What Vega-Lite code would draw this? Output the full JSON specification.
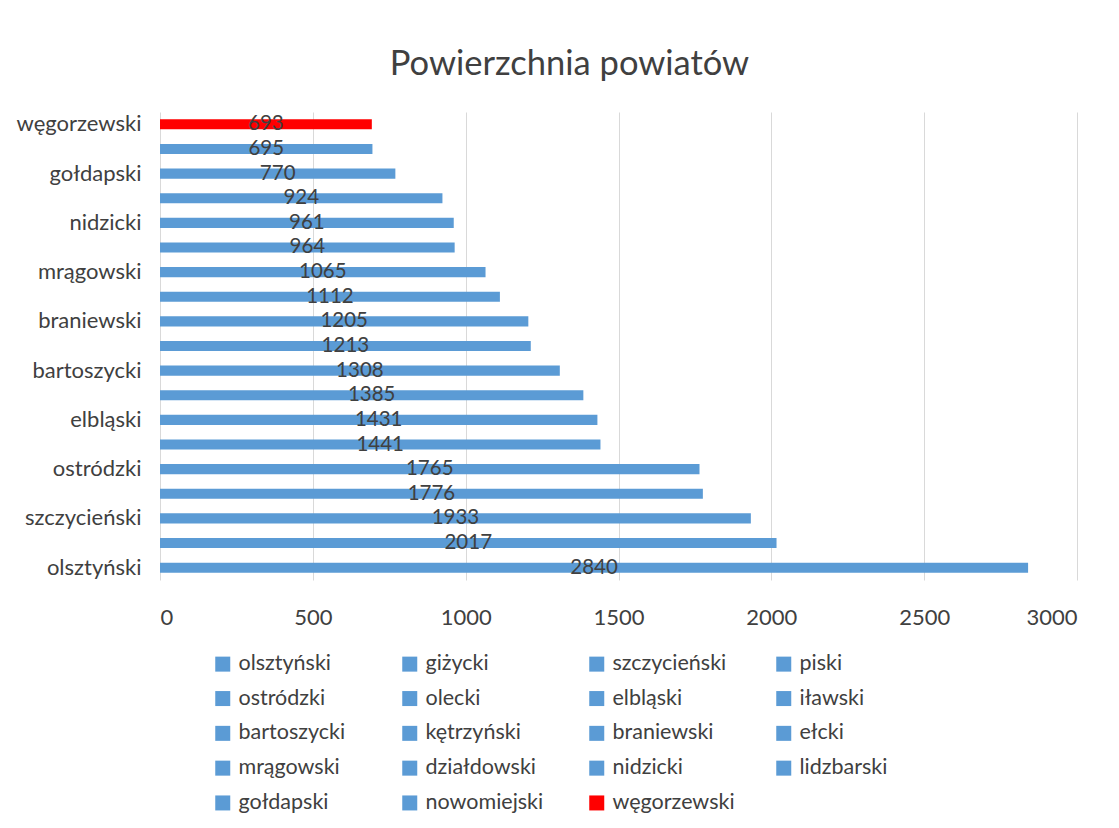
{
  "$schema": "https://vega.github.io/schema/vega-lite/v6.json",
  "width": 917,
  "height": 468,
  "autosize": {"type": "none"},
  "padding": {"left": 160, "top": 112, "right": 42, "bottom": 248},
  "background": "white",
  "config": {"view": {"stroke": null}, "font": "Lato"},
  "title": {"text": "Powierzchnia powiatów", "fontSize": 34.5, "font": "Lato", "fontWeight": "normal", "color": "#404040", "dx": -49, "offset": 3, "baseline": "alphabetic"},
  "data": {"values": [
    {"powiat": "olsztyński", "value": 2840},
    {"powiat": "giżycki", "value": 2017},
    {"powiat": "szczycieński", "value": 1933},
    {"powiat": "piski", "value": 1776},
    {"powiat": "ostródzki", "value": 1765},
    {"powiat": "olecki", "value": 1441},
    {"powiat": "elbląski", "value": 1431},
    {"powiat": "iławski", "value": 1385},
    {"powiat": "bartoszycki", "value": 1308},
    {"powiat": "kętrzyński", "value": 1213},
    {"powiat": "braniewski", "value": 1205},
    {"powiat": "ełcki", "value": 1112},
    {"powiat": "mrągowski", "value": 1065},
    {"powiat": "działdowski", "value": 964},
    {"powiat": "nidzicki", "value": 961},
    {"powiat": "lidzbarski", "value": 924},
    {"powiat": "gołdapski", "value": 770},
    {"powiat": "nowomiejski", "value": 695},
    {"powiat": "węgorzewski", "value": 693}
  ]},
  "layer": [
    {
      "mark": {"type": "bar", "height": {"band": 0.41}},
      "encoding": {
        "y": {
          "field": "powiat", "type": "nominal",
          "scale": {"domain": ["węgorzewski", "nowomiejski", "gołdapski", "lidzbarski", "nidzicki", "działdowski", "mrągowski", "ełcki", "braniewski", "kętrzyński", "bartoszycki", "iławski", "elbląski", "olecki", "ostródzki", "piski", "szczycieński", "giżycki", "olsztyński"], "paddingInner": 0, "paddingOuter": 0},
          "axis": {"values": ["olsztyński", "szczycieński", "ostródzki", "elbląski", "bartoszycki", "braniewski", "mrągowski", "nidzicki", "gołdapski", "węgorzewski"], "title": null, "domain": false, "ticks": false, "grid": false, "labelFontSize": 22, "labelPadding": 19, "labelColor": "#404040", "labelFont": "Lato"}
        },
        "x": {
          "field": "value", "type": "quantitative",
          "scale": {"domain": [0, 3000], "nice": false},
          "axis": {"values": [0, 500, 1000, 1500, 2000, 2500, 3000], "format": "d", "title": null, "domain": false, "ticks": false, "grid": true, "gridColor": "#d9d9d9", "gridWidth": 1, "labelFontSize": 22, "labelPadding": 27, "labelColor": "#404040", "labelFont": "Lato"}
        },
        "color": {
          "field": "powiat", "type": "nominal",
          "scale": {
            "domain": ["olsztyński", "giżycki", "szczycieński", "piski", "ostródzki", "olecki", "elbląski", "iławski", "bartoszycki", "kętrzyński", "braniewski", "ełcki", "mrągowski", "działdowski", "nidzicki", "lidzbarski", "gołdapski", "nowomiejski", "węgorzewski"],
            "range": ["#5B9BD5", "#5B9BD5", "#5B9BD5", "#5B9BD5", "#5B9BD5", "#5B9BD5", "#5B9BD5", "#5B9BD5", "#5B9BD5", "#5B9BD5", "#5B9BD5", "#5B9BD5", "#5B9BD5", "#5B9BD5", "#5B9BD5", "#5B9BD5", "#5B9BD5", "#5B9BD5", "#FF0000"]
          },
          "legend": {"orient": "none", "legendX": 52, "legendY": 541, "padding": 0, "direction": "horizontal", "columns": 4, "title": null, "symbolType": "square", "symbolSize": 225, "symbolStrokeWidth": 0, "labelFontSize": 21.5, "labelColor": "#404040", "labelFont": "Lato", "labelOffset": 5, "gridAlign": "all", "columnPadding": 38, "rowPadding": 11.8, "labelLimit": 300}
        }
      }
    },
    {
      "mark": {"type": "text", "fontSize": 20.5, "color": "#404040", "baseline": "middle", "align": "center", "font": "Lato"},
      "encoding": {
        "y": {"field": "powiat", "type": "nominal"},
        "x": {"field": "value", "type": "quantitative", "scale": {"domain": [0, 6000], "nice": false}, "axis": null},
        "text": {"field": "value", "type": "quantitative"}
      }
    }
  ],
  "resolve": {"scale": {"x": "independent"}}
}
